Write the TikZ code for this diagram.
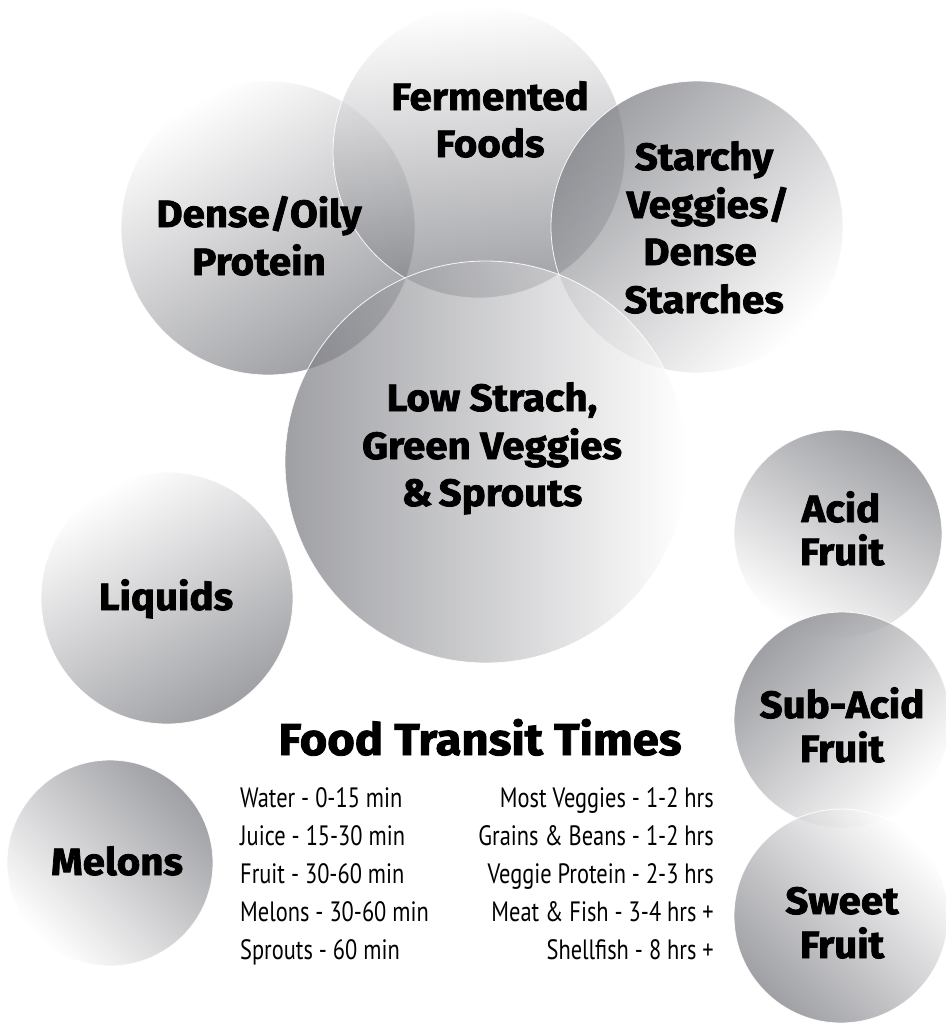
\documentclass[tikz,border=0pt]{standalone}
\usepackage{fontspec}
\newfontfamily\hv[BoldFeatures={FakeBold=2,FakeStretch=1.06}]{Fira Sans}
\newfontfamily\cond[FakeStretch=0.8]{PT Sans}
\definecolor{dk}{RGB}{122,123,129}
\begin{document}
\begin{tikzpicture}[x=1pt,y=-1pt]
\tikzset{
  ball/.style={circle, inner sep=0pt, minimum size=#1, draw=white, line width=0.8pt,
    draw opacity=0.9, fill opacity=0.72, top color=white, bottom color=dk},
  lab/.style={anchor=base, inner sep=0pt, text=black, font=\hv\bfseries\fontsize{38}{45}\selectfont},
  ttl/.style={anchor=base, inner sep=0pt, text=black, font=\hv\bfseries\fontsize{44.5}{55}\selectfont},
  lst/.style={inner sep=0pt, text=black, font=\cond\fontsize{28}{32}\selectfont},
}
\useasboundingbox (0,0) rectangle (945,1025);
% top cluster
\node[ball=294pt, shading angle=30] (dense) at (268,228) {};
\node[ball=292pt, shading angle=5] (ferm) at (479,152) {};
\node[ball=292pt, shading angle=-135] (starch) at (697,227) {};
\node[ball=402pt, shading angle=-90] (low) at (486,462) {};
% left
\node[ball=252pt, shading angle=30] (liq) at (167,598) {};
\node[ball=206pt, shading angle=135] (mel) at (110,863) {};
% right column
\node[ball=208pt, shading angle=150] (acid) at (838,534) {};
\node[ball=216pt, shading angle=-135] (sub) at (842,720) {};
\node[ball=214pt, shading angle=-45] (sweet) at (841,916) {};
% labels
\node[lab] (t-ferm1) at (490,110) {Fermented};
\node[lab] (t-ferm2) at (490,157) {Foods};
\node[lab] (t-dense1) at (259,227) {Dense/Oily};
\node[lab] (t-dense2) at (259,275) {Protein};
\node[lab] (t-st1) at (704,170) {Starchy};
\node[lab] (t-st2) at (708,218) {Veggies/};
\node[lab] (t-st3) at (700,265) {Dense};
\node[lab] (t-st4) at (704,313) {Starches};
\node[lab] (t-low1) at (492,411) {Low Strach,};
\node[lab] (t-low2) at (492,459) {Green Veggies};
\node[lab] (t-low3) at (492,506) {\&\,Sprouts};
\node[lab] (t-liq) at (166,610) {Liquids};
\node[lab] (t-mel) at (117,875) {Melons};
\node[lab] (t-acid1) at (841,522) {Acid};
\node[lab] (t-acid2) at (842,565) {Fruit};
\node[lab] (t-sub1) at (842,718) {Sub-Acid};
\node[lab] (t-sub2) at (842,762) {Fruit};
\node[lab] (t-sw1) at (842,914) {Sweet};
\node[lab] (t-sw2) at (842,958) {Fruit};
% title and lists
\node[ttl] (title) at (480,755) {Food Transit Times};
\node[lst, anchor=base west] (l1) at (240,807) {Water - 0-15 min};
\node[lst, anchor=base west] (l2) at (240,845) {Juice - 15-30 min};
\node[lst, anchor=base west] (l3) at (240,883) {Fruit - 30-60 min};
\node[lst, anchor=base west] (l4) at (240,921) {Melons - 30-60 min};
\node[lst, anchor=base west] (l5) at (240,959) {Sprouts - 60 min};
\node[lst, anchor=base east] (r1) at (714,807) {Most Veggies - 1-2 hrs};
\node[lst, anchor=base east] (r2) at (714,845) {Grains \& Beans - 1-2 hrs};
\node[lst, anchor=base east] (r3) at (714,883) {Veggie Protein - 2-3 hrs};
\node[lst, anchor=base east] (r4) at (714,921) {Meat \& Fish - 3-4 hrs +};
\node[lst, anchor=base east] (r5) at (714,959) {Shellfish - 8 hrs +};
\end{tikzpicture}
\end{document}
